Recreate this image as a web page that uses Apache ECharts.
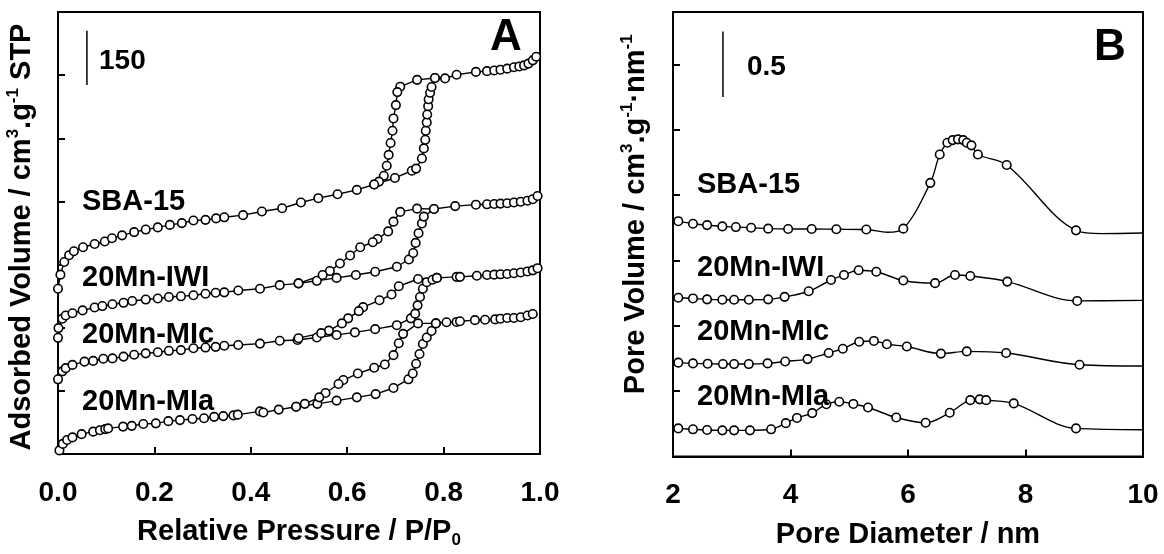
<!DOCTYPE html>
<html>
<head>
<meta charset="utf-8">
<title>Isotherms and pore size distribution</title>
<script src="https://cdn.jsdelivr.net/npm/echarts/dist/echarts.min.js"></script>
<style>
html, body { margin: 0; padding: 0; background: #fff; }
#chart_box { width: 1164px; height: 554px; }
</style>
</head>
<body>
<div id="chart_box"></div>
<script>
// ---- panel A : N2 isotherms (curves stacked with offsets, one tick = 175 cm3/g) ----
var sbaAdsP = [0.000, 0.005, 0.013, 0.023, 0.033, 0.052, 0.076, 0.097, 0.112, 0.133, 0.158, 0.182, 0.207, 0.232, 0.257, 0.281, 0.306, 0.328, 0.345, 0.384, 0.423, 0.465, 0.504, 0.540, 0.580, 0.620, 0.656, 0.699, 0.734, 0.743, 0.755, 0.759, 0.762, 0.763, 0.765, 0.766, 0.768, 0.769, 0.772, 0.775, 0.782, 0.803, 0.827, 0.867, 0.890, 0.905, 0.918, 0.932, 0.946, 0.957, 0.967, 0.976, 0.985, 0.992];
var sbaAdsV = [458, 497, 532, 551, 562, 573, 582, 589, 598, 606, 615, 622, 628, 635, 640, 647, 649, 653, 656, 662, 672, 681, 697, 709, 720, 732, 747, 765, 785, 791, 819, 847, 871, 896, 919, 941, 964, 983, 1001, 1017, 1042, 1041, 1051, 1059, 1061, 1063, 1065, 1068, 1072, 1074, 1077, 1082, 1091, 1101];
var sbaDesP = [0.782, 0.745, 0.710, 0.704, 0.701, 0.696, 0.694, 0.690, 0.686, 0.682, 0.676, 0.666, 0.656];
var sbaDesV = [1042, 1037, 1018, 1003, 967, 930, 896, 862, 829, 799, 771, 755, 747];

var iwiAdsP = [0.000, 0.001, 0.009, 0.016, 0.030, 0.051, 0.076, 0.092, 0.113, 0.136, 0.154, 0.182, 0.207, 0.230, 0.255, 0.281, 0.306, 0.327, 0.345, 0.374, 0.419, 0.460, 0.499, 0.537, 0.578, 0.618, 0.658, 0.703, 0.728, 0.737, 0.742, 0.748, 0.755, 0.759, 0.780, 0.824, 0.867, 0.890, 0.905, 0.918, 0.932, 0.946, 0.960, 0.974, 0.985, 0.995];
var iwiAdsV = [322, 349, 375, 384, 390, 398, 406, 410, 415, 419, 424, 428, 431, 435, 437, 440, 444, 447, 448, 453, 458, 468, 473, 480, 488, 496, 505, 519, 539, 557, 585, 612, 639, 658, 679, 687, 691, 692, 693, 694, 695, 697, 699, 702, 706, 715];
var iwiDesP = [0.780, 0.745, 0.710, 0.696, 0.685, 0.663, 0.653, 0.627, 0.606, 0.585, 0.564, 0.549, 0.499];
var iwiDesV = [679, 680, 671, 644, 617, 596, 587, 573, 550, 528, 507, 496, 473];

var micAdsP = [0.000, 0.009, 0.016, 0.030, 0.055, 0.073, 0.094, 0.113, 0.136, 0.158, 0.182, 0.207, 0.230, 0.255, 0.281, 0.306, 0.327, 0.345, 0.374, 0.419, 0.460, 0.497, 0.537, 0.578, 0.616, 0.658, 0.703, 0.732, 0.741, 0.746, 0.751, 0.757, 0.765, 0.777, 0.786, 0.827, 0.834, 0.869, 0.890, 0.905, 0.918, 0.932, 0.946, 0.960, 0.974, 0.985, 0.995];
var micAdsV = [207, 229, 238, 247, 256, 258, 264, 265, 270, 275, 279, 282, 286, 288, 293, 295, 297, 300, 302, 306, 314, 316, 323, 330, 337, 346, 357, 376, 389, 412, 435, 458, 476, 483, 488, 491, 491, 494, 496, 497, 498, 499, 501, 503, 506, 509, 515];
var micDesP = [0.786, 0.747, 0.707, 0.692, 0.667, 0.633, 0.624, 0.602, 0.589, 0.562, 0.546, 0.499];
var micDesV = [488, 485, 465, 442, 426, 407, 396, 376, 362, 342, 335, 321];

var miaAdsP = [0.003, 0.010, 0.019, 0.030, 0.049, 0.073, 0.087, 0.098, 0.104, 0.135, 0.153, 0.177, 0.203, 0.229, 0.253, 0.279, 0.303, 0.324, 0.343, 0.364, 0.373, 0.419, 0.426, 0.458, 0.494, 0.538, 0.578, 0.620, 0.659, 0.696, 0.727, 0.736, 0.743, 0.750, 0.757, 0.765, 0.775, 0.784, 0.806, 0.827, 0.834, 0.865, 0.886, 0.907, 0.918, 0.932, 0.946, 0.960, 0.974, 0.985];
var miaAdsV = [10, 28, 39, 46, 55, 62, 66, 69, 71, 76, 78, 83, 85, 91, 94, 97, 99, 103, 105, 107, 109, 118, 115, 123, 131, 139, 148, 157, 166, 183, 207, 223, 250, 277, 305, 323, 341, 362, 365, 366, 368, 371, 372, 373, 375, 377, 377, 379, 384, 388];
var miaDesP = [0.784, 0.747, 0.716, 0.707, 0.696, 0.678, 0.656, 0.622, 0.592, 0.582, 0.555, 0.542, 0.512, 0.494];
var miaDesV = [362, 362, 333, 307, 274, 248, 239, 223, 205, 194, 169, 157, 139, 131];

// scale bar of panel A (150 cm3/g)
var barAP = [0.06, 0.06];
var barAV = [1023, 1173];

// ---- panel B : pore size distribution (curves offset, one tick = 0.5) ----
var sbaPsdD = [2.09, 2.34, 2.58, 2.84, 3.07, 3.33, 3.62, 3.96, 4.36, 4.78, 5.29, 5.92, 6.38, 6.54, 6.67, 6.76, 6.85, 6.94, 7.00, 7.08, 7.19, 7.68, 8.86];
var sbaPsdY = [1.80, 1.78, 1.77, 1.76, 1.755, 1.75, 1.743, 1.74, 1.74, 1.738, 1.736, 1.743, 2.093, 2.31, 2.40, 2.42, 2.426, 2.42, 2.40, 2.38, 2.31, 2.23, 1.73];
var sbaLineD = [5.65, 9.3, 10.0];
var sbaLineY = [1.715, 1.705, 1.71];

var iwiPsdD = [2.09, 2.34, 2.58, 2.84, 3.04, 3.29, 3.62, 3.90, 4.31, 4.69, 4.91, 5.16, 5.46, 5.92, 6.46, 6.80, 7.06, 7.69, 8.88];
var iwiPsdY = [1.214, 1.209, 1.202, 1.199, 1.199, 1.199, 1.202, 1.221, 1.264, 1.350, 1.388, 1.425, 1.413, 1.346, 1.326, 1.388, 1.381, 1.338, 1.190];
var iwiLineD = [10.0];
var iwiLineY = [1.194];

var micPsdD = [2.09, 2.34, 2.59, 2.85, 3.04, 3.29, 3.61, 3.91, 4.29, 4.65, 4.89, 5.17, 5.42, 5.64, 5.98, 6.56, 7.00, 7.67, 8.92];
var micPsdY = [0.718, 0.712, 0.710, 0.707, 0.707, 0.707, 0.712, 0.727, 0.745, 0.792, 0.824, 0.878, 0.884, 0.859, 0.841, 0.787, 0.804, 0.792, 0.702];
var micLineD = [10.0];
var micLineY = [0.692];

var miaPsdD = [2.09, 2.34, 2.58, 2.84, 3.04, 3.31, 3.67, 3.92, 4.11, 4.37, 4.61, 4.83, 5.07, 5.32, 5.80, 6.30, 6.71, 7.06, 7.22, 7.33, 7.80, 8.86];
var miaPsdY = [0.215, 0.208, 0.203, 0.200, 0.200, 0.200, 0.208, 0.255, 0.295, 0.332, 0.400, 0.419, 0.402, 0.375, 0.298, 0.258, 0.335, 0.431, 0.437, 0.431, 0.406, 0.215];
var miaLineD = [10.0];
var miaLineY = [0.205];

// scale bar of panel B (0.5)
var barBD = [2.85, 2.85];
var barBY = [2.75, 3.25];

var xTicksA = [0, 0.2, 0.4, 0.6, 0.8, 1.0];
var xTicksB = [2, 4, 6, 8, 10];

var FONT = '"Liberation Sans", Arial, Helvetica, sans-serif';

function pairs(xs, ys) {
    var out = [];
    for (var i = 0; i < xs.length; i++) out.push([xs[i], ys[i]]);
    return out;
}

// circles + extra curve points (drawn without symbol), sorted along x
function psdData(xs, ys, lx, ly) {
    var out = [];
    for (var i = 0; i < xs.length; i++) out.push({ value: [xs[i], ys[i]] });
    for (var j = 0; j < lx.length; j++) out.push({ value: [lx[j], ly[j]], symbol: 'none' });
    out.sort(function(a, b) { return a.value[0] - b.value[0]; });
    return out;
}

function isoSeries(xs, ys) {
    return {
        type: 'line', xAxisIndex: 0, yAxisIndex: 0,
        data: pairs(xs, ys),
        symbol: 'circle', symbolSize: 8.5, showSymbol: true,
        lineStyle: { color: '#000', width: 1.4 },
        itemStyle: { color: '#fff', borderColor: '#000', borderWidth: 1.6 },
        z: 3
    };
}

function psdSeries(data) {
    return {
        type: 'line', xAxisIndex: 1, yAxisIndex: 1,
        data: data,
        smooth: 0.35,
        symbol: 'circle', symbolSize: 8.5, showSymbol: true,
        lineStyle: { color: '#000', width: 1.4 },
        itemStyle: { color: '#fff', borderColor: '#000', borderWidth: 1.6 },
        z: 3
    };
}

function barSeries(xs, ys, xi) {
    return {
        type: 'line', xAxisIndex: xi, yAxisIndex: xi,
        data: pairs(xs, ys), symbol: 'none',
        lineStyle: { color: '#000', width: 1.5 }, z: 2
    };
}

var richTitle = {
    b: { fontFamily: FONT, fontWeight: 'bold', fontSize: 29, color: '#000', lineHeight: 34 },
    sup: { fontFamily: FONT, fontWeight: 'bold', fontSize: 17, color: '#000', verticalAlign: 'top', lineHeight: 19 },
    sub: { fontFamily: FONT, fontWeight: 'bold', fontSize: 17, color: '#000', verticalAlign: 'bottom', lineHeight: 17 }
};

var axisLabelStyle = { fontFamily: FONT, fontWeight: 'bold', fontSize: 28, color: '#000', margin: 25 };
var axisLineStyle = { lineStyle: { color: '#000', width: 2 } };
var tickStyle = { inside: true, length: 7, lineStyle: { color: '#000', width: 2 } };

function label(text, x, y, size) {
    return {
        type: 'text', x: x, y: y, z: 10,
        style: {
            text: text, fill: '#000',
            font: 'bold ' + (size || 29) + 'px ' + FONT,
            textAlign: 'left', textVerticalAlign: 'middle',
            align: 'left', verticalAlign: 'middle'
        }
    };
}

var option = {
    animation: false,
    backgroundColor: '#fff',
    grid: [
        { left: 58, top: 12, width: 482, height: 449, show: true, borderColor: '#000', borderWidth: 2 },
        { left: 673, top: 12, width: 470, height: 450, show: true, borderColor: '#000', borderWidth: 2 }
    ],
    xAxis: [
        {
            type: 'value', gridIndex: 0, min: xTicksA[0], max: xTicksA[xTicksA.length - 1], interval: 0.2,
            splitLine: { show: false }, axisLine: axisLineStyle, axisTick: tickStyle,
            axisLabel: Object.assign({ formatter: function(v) { return v.toFixed(1); } }, axisLabelStyle),
            name: '{b|Relative Pressure / P/P}{sub|0}', nameLocation: 'middle', nameGap: 61,
            nameTextStyle: { rich: richTitle }
        },
        {
            type: 'value', gridIndex: 1, min: xTicksB[0], max: xTicksB[xTicksB.length - 1], interval: 2,
            splitLine: { show: false }, axisLine: axisLineStyle, axisTick: tickStyle,
            axisLabel: axisLabelStyle,
            name: '{b|Pore Diameter / nm}', nameLocation: 'middle', nameGap: 61,
            nameTextStyle: { rich: richTitle }
        }
    ],
    yAxis: [
        {
            type: 'value', gridIndex: 0, min: 0, max: 1225, interval: 175,
            splitLine: { show: false }, axisLine: axisLineStyle, axisTick: tickStyle,
            axisLabel: { show: false },
            name: '{b|Adsorbed Volume / cm}{sup|3}{b|.g}{sup|-1}{b| STP}',
            nameLocation: 'middle', nameRotate: 90, nameGap: 19,
            nameTextStyle: { rich: richTitle, padding: [0, 8, 0, 0] }
        },
        {
            type: 'value', gridIndex: 1, min: 0, max: 3.4, interval: 0.5,
            splitLine: { show: false }, axisLine: axisLineStyle, axisTick: tickStyle,
            axisLabel: { show: false },
            name: '{b|Pore Volume / cm}{sup|3}{b|.g}{sup|-1}{b|\u00b7nm}{sup|-1}',
            nameLocation: 'middle', nameRotate: 90, nameGap: 20,
            nameTextStyle: { rich: richTitle, padding: [0, 0, 0, 40] }
        }
    ],
    series: [
        isoSeries(sbaAdsP, sbaAdsV), isoSeries(sbaDesP, sbaDesV),
        isoSeries(iwiAdsP, iwiAdsV), isoSeries(iwiDesP, iwiDesV),
        isoSeries(micAdsP, micAdsV), isoSeries(micDesP, micDesV),
        isoSeries(miaAdsP, miaAdsV), isoSeries(miaDesP, miaDesV),
        barSeries(barAP, barAV, 0),
        psdSeries(psdData(sbaPsdD, sbaPsdY, sbaLineD, sbaLineY)),
        psdSeries(psdData(iwiPsdD, iwiPsdY, iwiLineD, iwiLineY)),
        psdSeries(psdData(micPsdD, micPsdY, micLineD, micLineY)),
        psdSeries(psdData(miaPsdD, miaPsdY, miaLineD, miaLineY)),
        barSeries(barBD, barBY, 1)
    ],
    graphic: [
        label('150', 99, 61, 28),
        label('A', 490, 38, 44),
        label('SBA-15', 82, 202),
        label('20Mn-IWI', 82, 278),
        label('20Mn-MIc', 82, 335),
        label('20Mn-MIa', 82, 402),
        label('0.5', 747, 67, 28),
        label('B', 1094, 48, 44),
        label('SBA-15', 697, 185),
        label('20Mn-IWI', 697, 268),
        label('20Mn-MIc', 697, 332),
        label('20Mn-MIa', 697, 397)
    ]
};

var myChart = echarts.init(document.getElementById('chart_box'));
myChart.setOption(option);

window.onresize = function() {
    myChart.resize();
};
</script>
</body>
</html>
